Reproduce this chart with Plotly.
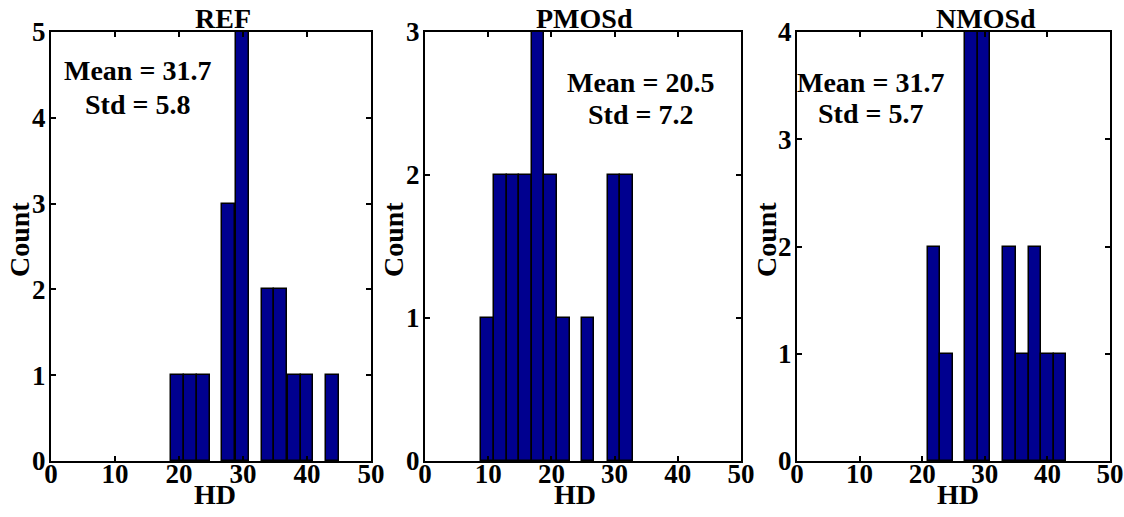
import plotly.graph_objects as go

# Histogram data for the three HD distributions (bin centres and counts)
ref_centers = [19.8, 21.8, 23.8, 27.8, 29.9, 33.9, 35.9, 38.0, 40.0, 44.0]
ref_counts = [1, 1, 1, 3, 5, 2, 2, 1, 1, 1]

pmos_centers = [9.85, 11.9, 13.9, 15.9, 17.9, 19.9, 21.95, 25.8, 29.9, 31.9]
pmos_counts = [1, 2, 2, 2, 3, 2, 1, 1, 2, 2]

nmos_centers = [21.9, 23.9, 27.9, 29.9, 33.95, 36.0, 38.0, 40.0, 42.0]
nmos_counts = [2, 1, 4, 4, 2, 1, 2, 1, 1]

bin_widths = [2.02, 2.01, 2.0]
titles = ["REF", "PMOSd", "NMOSd"]
y_max = [5, 3, 4]
stats_mean = ["31.7", "20.5", "31.7"]
stats_std = ["5.8", "7.2", "5.7"]
x_ticks = [0, 10, 20, 30, 40, 50]

W, H = 1124, 517
FONT = "Liberation Serif"
BAR_COLOR = "#00008F"
FS = 28       # titles, labels and statistics text
TICK_FS = 27  # tick labels

# Panel geometry in pixels
panels_x = [(51, 371), (425, 741), (797, 1110)]
plot_top, plot_bottom = 32, 461
title_x = [223, 584, 986]
stat_x = [137, 640, 870]
stat_y = [(70, 104), (82, 115), (82, 113)]
count_x = [20, 394, 767]
hd_x = [215, 575, 958]


def px(x):
    return x / W


def py(y):
    return 1 - y / H


fig = go.Figure()
series = [(ref_centers, ref_counts), (pmos_centers, pmos_counts), (nmos_centers, nmos_counts)]

tick_font = dict(family=FONT, size=TICK_FS, color="black", weight="bold")

annotations = []
for i, (centers, counts) in enumerate(series):
    xa = "x" if i == 0 else f"x{i + 1}"
    ya = "y" if i == 0 else f"y{i + 1}"
    fig.add_trace(go.Bar(
        x=centers, y=counts, width=bin_widths[i],
        marker=dict(color=BAR_COLOR, line=dict(color="black", width=1.5)),
        xaxis=xa, yaxis=ya, showlegend=False,
    ))
    x0, x1 = panels_x[i]
    key = "" if i == 0 else str(i + 1)
    fig.layout[f"xaxis{key}"] = dict(
        domain=[px(x0), px(x1)], anchor=ya, range=[0, 50],
        tickvals=x_ticks, ticks="inside", ticklen=5, tickwidth=1.5,
        tickcolor="black", showline=True, linewidth=2, linecolor="black",
        mirror="ticks", showgrid=False, zeroline=False, tickfont=tick_font,
        ticklabelstandoff=-12, automargin=False,
    )
    fig.layout[f"yaxis{key}"] = dict(
        domain=[py(plot_bottom), py(plot_top)], anchor=xa, range=[0, y_max[i]],
        tickvals=list(range(0, y_max[i] + 1)), ticks="inside", ticklen=5,
        tickwidth=1.5, tickcolor="black", showline=True, linewidth=2,
        linecolor="black", mirror="ticks", showgrid=False, zeroline=False,
        tickfont=tick_font, ticklabelstandoff=-2, automargin=False,
    )
    txt = dict(family=FONT, size=FS, color="black", weight="bold")
    annotations += [
        dict(text=titles[i], x=px(title_x[i]), y=py(18), xref="paper", yref="paper",
             xanchor="center", yanchor="middle", showarrow=False, font=txt),
        dict(text=f"Mean = {stats_mean[i]}", x=px(stat_x[i]), y=py(stat_y[i][0]),
             xref="paper", yref="paper", xanchor="center", yanchor="middle",
             showarrow=False, font=txt),
        dict(text=f"Std = {stats_std[i]}", x=px(stat_x[i]), y=py(stat_y[i][1]),
             xref="paper", yref="paper", xanchor="center", yanchor="middle",
             showarrow=False, font=txt),
        dict(text="Count", x=px(count_x[i]), y=py(240), xref="paper", yref="paper",
             xanchor="center", yanchor="middle", textangle=-90, showarrow=False, font=txt),
        dict(text="HD", x=px(hd_x[i]), y=py(494), xref="paper", yref="paper",
             xanchor="center", yanchor="middle", showarrow=False, font=txt),
    ]

fig.update_layout(
    width=W, height=H, margin=dict(l=0, r=0, t=0, b=0, pad=0, autoexpand=False),
    paper_bgcolor="white", plot_bgcolor="white", bargap=0,
    annotations=annotations,
)

fig.write_html("out.html")
